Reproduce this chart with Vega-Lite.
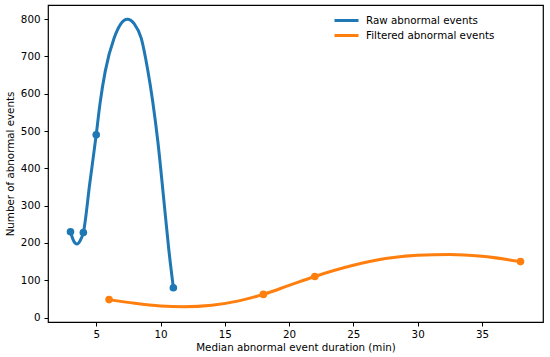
{
  "$schema": "https://vega.github.io/schema/vega-lite/v6.json",
  "width": 495,
  "height": 317,
  "autosize": "none",
  "padding": {"left": 48, "top": 5, "right": 7, "bottom": 35},
  "background": "white",
  "config": {
    "font": "DejaVu Sans",
    "view": {"stroke": "black", "strokeWidth": 1.2},
    "axis": {
      "grid": false,
      "domain": false,
      "tickColor": "black",
      "tickSize": 4,
      "tickWidth": 1,
      "labelFont": "DejaVu Sans",
      "labelFontSize": 10.3,
      "labelColor": "black",
      "labelOverlap": false,
      "titleFont": "DejaVu Sans",
      "titleFontSize": 10.3,
      "titleFontWeight": "normal",
      "titleColor": "black"
    }
  },
  "datasets": {
    "curve": [
      {"series": "Raw abnormal events", "x": 3, "y": 230},
      {"series": "Raw abnormal events", "x": 3.25, "y": 205},
      {"series": "Raw abnormal events", "x": 3.5, "y": 197},
      {"series": "Raw abnormal events", "x": 3.75, "y": 206},
      {"series": "Raw abnormal events", "x": 4, "y": 228},
      {"series": "Raw abnormal events", "x": 4.5, "y": 360},
      {"series": "Raw abnormal events", "x": 5, "y": 490},
      {"series": "Raw abnormal events", "x": 5.3, "y": 575},
      {"series": "Raw abnormal events", "x": 5.7, "y": 660},
      {"series": "Raw abnormal events", "x": 6.4, "y": 750},
      {"series": "Raw abnormal events", "x": 6.9, "y": 787},
      {"series": "Raw abnormal events", "x": 7.43, "y": 800},
      {"series": "Raw abnormal events", "x": 7.95, "y": 788},
      {"series": "Raw abnormal events", "x": 8.5, "y": 749},
      {"series": "Raw abnormal events", "x": 9.0, "y": 665},
      {"series": "Raw abnormal events", "x": 9.4, "y": 578},
      {"series": "Raw abnormal events", "x": 9.8, "y": 470},
      {"series": "Raw abnormal events", "x": 10.26, "y": 315},
      {"series": "Raw abnormal events", "x": 10.65, "y": 181},
      {"series": "Raw abnormal events", "x": 11, "y": 80},
      {"series": "Filtered abnormal events", "x": 6, "y": 48},
      {"series": "Filtered abnormal events", "x": 8, "y": 38},
      {"series": "Filtered abnormal events", "x": 10, "y": 31},
      {"series": "Filtered abnormal events", "x": 11.8, "y": 29},
      {"series": "Filtered abnormal events", "x": 14, "y": 33},
      {"series": "Filtered abnormal events", "x": 16, "y": 44},
      {"series": "Filtered abnormal events", "x": 18, "y": 62},
      {"series": "Filtered abnormal events", "x": 20, "y": 86},
      {"series": "Filtered abnormal events", "x": 22, "y": 110},
      {"series": "Filtered abnormal events", "x": 25, "y": 140},
      {"series": "Filtered abnormal events", "x": 27.5, "y": 158},
      {"series": "Filtered abnormal events", "x": 30, "y": 167},
      {"series": "Filtered abnormal events", "x": 32.5, "y": 169},
      {"series": "Filtered abnormal events", "x": 35, "y": 164},
      {"series": "Filtered abnormal events", "x": 38, "y": 150}
    ],
    "points": [
      {"series": "Raw abnormal events", "x": 3, "y": 230},
      {"series": "Raw abnormal events", "x": 4, "y": 228},
      {"series": "Raw abnormal events", "x": 5, "y": 490},
      {"series": "Raw abnormal events", "x": 11, "y": 80},
      {"series": "Filtered abnormal events", "x": 6, "y": 48},
      {"series": "Filtered abnormal events", "x": 18, "y": 62},
      {"series": "Filtered abnormal events", "x": 22, "y": 110},
      {"series": "Filtered abnormal events", "x": 38, "y": 150}
    ]
  },
  "encoding": {
    "x": {
      "field": "x", "type": "quantitative",
      "scale": {"domain": [1.25, 39.75], "nice": false, "zero": false},
      "axis": {"values": [5, 10, 15, 20, 25, 30, 35], "labelOverlap": false, "title": "Median abnormal event duration (min)", "titlePadding": 3, "labelPadding": 3}
    },
    "y": {
      "field": "y", "type": "quantitative",
      "scale": {"domain": [-12, 838], "nice": false, "zero": false},
      "axis": {"values": [0, 100, 200, 300, 400, 500, 600, 700, 800], "labelOverlap": false, "title": "Number of abnormal events", "titlePadding": 5, "labelPadding": 4}
    }
  },
  "layer": [
    {
      "data": {"name": "curve"},
      "mark": {"type": "line", "interpolate": "monotone", "strokeWidth": 3, "clip": true},
      "encoding": {
        "color": {
          "field": "series", "type": "nominal",
          "scale": {"domain": ["Raw abnormal events", "Filtered abnormal events"], "range": ["#1f77b4", "#ff7f0e"]},
          "legend": {
            "title": null,
            "orient": "none",
            "legendX": 289.5,
            "legendY": 6.5,
            "symbolType": "M-1.6,0H1.6",
            "symbolSize": 225,
            "symbolStrokeWidth": 3,
            "labelFontSize": 10.3,
            "labelFont": "DejaVu Sans",
            "labelColor": "black",
            "labelOffset": 10.5,
            "rowPadding": 0,
            "padding": 0
          }
        },
        "detail": {"field": "series"}
      }
    },
    {
      "data": {"name": "points"},
      "mark": {"type": "point", "filled": true, "opacity": 1, "size": 58},
      "encoding": {
        "color": {"field": "series", "type": "nominal", "legend": null}
      }
    }
  ],
  "resolve": {"legend": {"color": "independent"}}
}
